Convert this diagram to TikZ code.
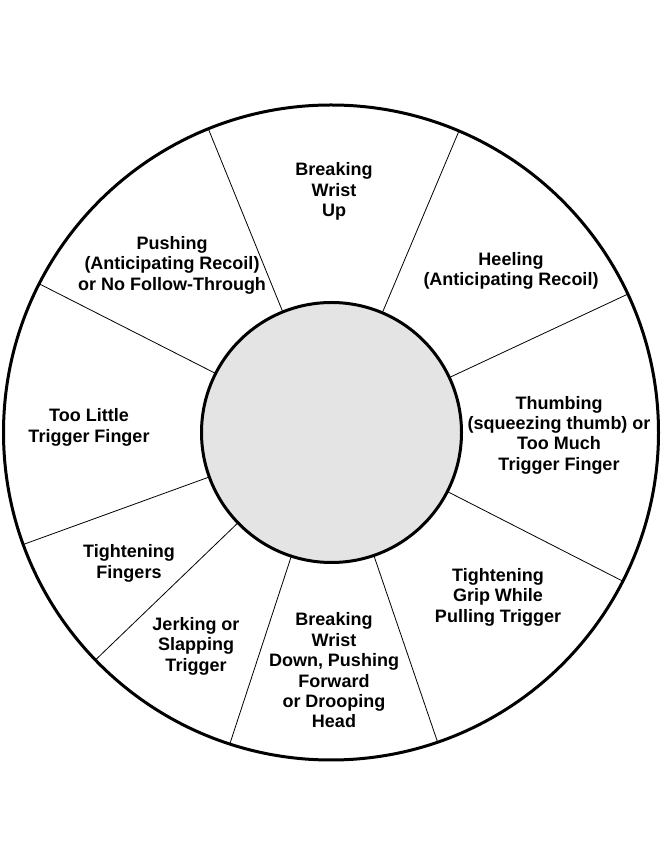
\documentclass[tikz,border=0pt]{standalone}
\usepackage{fontspec}
\setmainfont{Liberation Sans}
\definecolor{hubgray}{RGB}{228,228,228}
\begin{document}
\begin{tikzpicture}[x=1pt,y=1pt,
  ring/.style={draw=black, circle, line width=3pt, inner sep=0pt, outer sep=0pt},
  spoke/.style={draw=black, line width=0.8pt},
  lbl/.style={align=center, font=\fontsize{18}{20.4}\selectfont\bfseries, inner sep=0pt}]
\fill[white] (0,0) rectangle (662,844);
\useasboundingbox (0,0) rectangle (662,844);
\node[ring, fill=white, minimum size=655pt] (outer) at (331,411.5) {};
\node[ring, fill=hubgray, minimum size=260pt] (hub) at (331.5,411.5) {};
\foreach \a in {112.3,67.2,25,333.9,289,252.3,224.5,200,153.8}
  \draw[spoke] (hub.\a) -- (outer.\a);
\node[lbl] (t1) at (334,652.5) {Breaking\\Wrist\\Up};
\node[lbl] (t2) at (172,579) {Pushing\\(Anticipating Recoil)\\or No Follow-Through};
\node[lbl] (t3) at (511,573) {Heeling\\(Anticipating Recoil)};
\node[lbl] (t4) at (89,416.5) {Too Little\\Trigger Finger};
\node[lbl] (t5) at (559,409) {Thumbing\\(squeezing thumb) or\\Too Much\\Trigger Finger};
\node[lbl] (t6) at (129,280.5) {Tightening\\Fingers};
\node[lbl] (t7) at (498,247) {Tightening\\Grip While\\Pulling Trigger};
\node[lbl] (t8) at (196,198) {Jerking or\\Slapping\\Trigger};
\node[lbl] (t9) at (334,173.5) {Breaking\\Wrist\\Down, Pushing\\Forward\\or Drooping\\Head};
\end{tikzpicture}
\end{document}
